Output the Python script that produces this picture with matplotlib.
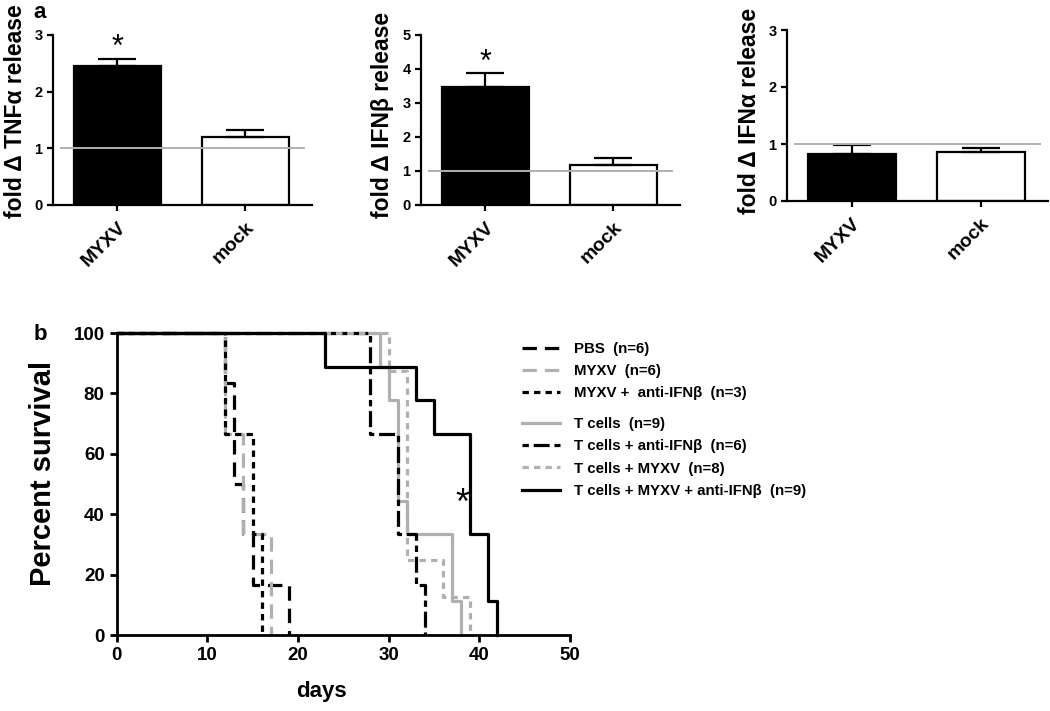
import matplotlib
matplotlib.use("Agg")
import matplotlib.pyplot as plt

plt.rcParams['font.family'] = ['Liberation Sans', 'DejaVu Sans']

# panel a data
groups = ['MYXV', 'mock']
tnf_vals = [2.46, 1.20]
tnf_err = [0.12, 0.12]
ifnb_vals = [3.48, 1.18]
ifnb_err = [0.39, 0.19]
ifna_vals = [0.83, 0.86]
ifna_err = [0.15, 0.07]

# panel b data (Kaplan-Meier steps: day, percent survival)
pbs_days = [0, 12, 13, 14, 15, 19]
pbs_surv = [100, 83.3, 50, 33.3, 16.7, 0]
myxv_days = [0, 12, 14, 17]
myxv_surv = [100, 66.7, 33.3, 0]
myxv_anti_days = [0, 12, 15, 16]
myxv_anti_surv = [100, 66.7, 33.3, 0]
tc_days = [0, 29, 30, 31, 32, 37, 38]
tc_surv = [100, 88.9, 77.8, 44.4, 33.3, 11.1, 0]
tc_anti_days = [0, 28, 31, 33, 34]
tc_anti_surv = [100, 66.7, 33.3, 16.7, 0]
tc_myxv_days = [0, 30, 32, 36, 39]
tc_myxv_surv = [100, 87.5, 25, 12.5, 0]
tc_myxv_anti_days = [0, 23, 33, 35, 39, 41, 42]
tc_myxv_anti_surv = [100, 88.9, 77.8, 66.7, 33.3, 11.1, 0]

fig = plt.figure(figsize=(10.5, 7.11), dpi=100)

W, H = 1050, 711
def px_axes(l, t, r, b):
    return fig.add_axes([l / W, 1 - b / H, (r - l) / W, (b - t) / H])

GRAY = '#b0b0b0'

def bar_panel(ax, vals, err, ymax, ylabel, star, labx, laby):
    x = [0, 1]
    ax.bar(x, vals, width=0.68, color=['black', 'white'], edgecolor='black',
           linewidth=1.6, zorder=2)
    ax.errorbar(x, vals, yerr=[[0, 0], err], fmt='none', ecolor='black',
                elinewidth=1.6, capsize=14, capthick=1.6, zorder=3)
    ax.axhline(1, color=GRAY, lw=1.4, xmin=0.03, xmax=0.97, zorder=4)
    ax.set_xlim(-0.5, 1.52)
    ax.set_ylim(0, ymax)
    ax.set_yticks(range(0, ymax + 1))
    ax.set_xticks(x)
    ax.set_xticklabels(groups, rotation=45, ha='right', rotation_mode='anchor',
                       fontsize=14, fontweight='bold')
    for lab in ax.get_yticklabels():
        lab.set_fontweight('bold')
        lab.set_fontsize(10.5)
    ax.spines['top'].set_visible(False)
    ax.spines['right'].set_visible(False)
    for s in ('left', 'bottom'):
        ax.spines[s].set_linewidth(1.6)
    ax.tick_params(width=1.6, length=4)
    ax.tick_params(axis='x', pad=6)
    ax.set_ylabel(ylabel, fontsize=16.5, fontweight='bold')
    ax.yaxis.set_label_coords(labx, laby)
    if star is not None:
        ax.text(0, star, '*', ha='center', va='center', fontsize=22)

ax1 = px_axes(53, 35, 312, 205)
bar_panel(ax1, tnf_vals, tnf_err, 3, 'fold Δ TNFα release', 2.78, -0.10, 0.55)
ax2 = px_axes(421, 35, 680, 205)
bar_panel(ax2, ifnb_vals, ifnb_err, 5, 'fold Δ IFNβ release', 4.17, -0.104, 0.53)
ax3 = px_axes(787, 30, 1048, 201)
bar_panel(ax3, ifna_vals, ifna_err, 3, 'fold Δ IFNα release', None, -0.10, 0.525)

fig.text(40 / W, 1 - 12 / H, 'a', fontsize=16, fontweight='bold', ha='center', va='center')
fig.text(40 / W, 1 - 334 / H, 'b', fontsize=16, fontweight='bold', ha='center', va='center')

# survival panel
axb = px_axes(116.5, 333, 570, 635)
lw = 2.3
curves = [
    (pbs_days, pbs_surv, 'black', (0, (4.5, 2.5)), 'PBS  (n=6)'),
    (myxv_days, myxv_surv, GRAY, (0, (4.5, 2.5)), 'MYXV  (n=6)'),
    (myxv_anti_days, myxv_anti_surv, 'black', (0, (2, 1.6)), 'MYXV +  anti-IFNβ  (n=3)'),
    (tc_days, tc_surv, GRAY, '-', 'T cells  (n=9)'),
    (tc_anti_days, tc_anti_surv, 'black', (0, (2, 1.5, 5, 1.5)), 'T cells + anti-IFNβ  (n=6)'),
    (tc_myxv_days, tc_myxv_surv, GRAY, (0, (2, 1.6)), 'T cells + MYXV  (n=8)'),
    (tc_myxv_anti_days, tc_myxv_anti_surv, 'black', '-', 'T cells + MYXV + anti-IFNβ  (n=9)'),
]
handles = []
for d, s, c, ls, lab in curves:
    ln, = axb.step(d, s, where='post', color=c, linestyle=ls, lw=lw,
                   clip_on=False, label=lab)
    handles.append(ln)

axb.set_xlim(0, 50)
axb.set_ylim(0, 100)
axb.set_xticks(range(0, 51, 10))
axb.set_yticks(range(0, 101, 20))
for lab in axb.get_xticklabels() + axb.get_yticklabels():
    lab.set_fontweight('bold')
    lab.set_fontsize(13.5)
axb.spines['top'].set_visible(False)
axb.spines['right'].set_visible(False)
for s in ('left', 'bottom'):
    axb.spines[s].set_linewidth(2.0)
axb.tick_params(width=2.0, length=5)
axb.set_xlabel('days', fontsize=16, fontweight='bold')
axb.xaxis.set_label_coords(0.451, -0.152)
axb.set_ylabel('Percent survival', fontsize=21, fontweight='bold')
axb.yaxis.set_label_coords(-0.131, 0.535)
axb.text(38.1, 43.2, '*', ha='center', va='center', fontsize=26)

leg_kw = dict(frameon=False, handlelength=2.5, handletextpad=0.95,
              labelspacing=0.55, borderaxespad=0, borderpad=0,
              prop={'weight': 'bold', 'size': 10.8})
leg1 = fig.legend(handles=handles[:3], loc='upper left',
                  bbox_to_anchor=(522 / W, 1 - 342 / H), **leg_kw)
leg2 = fig.legend(handles=handles[3:], loc='upper left',
                  bbox_to_anchor=(522 / W, 1 - 417 / H), **leg_kw)

fig.savefig('out.png', dpi=100)
